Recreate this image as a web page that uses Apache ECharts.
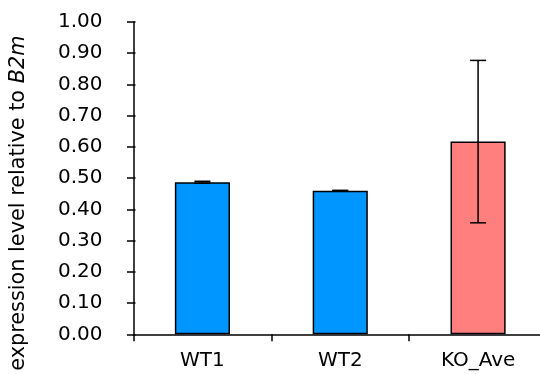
<!DOCTYPE html>
<html><head><meta charset="utf-8">
<script src="https://cdn.jsdelivr.net/npm/echarts@6/dist/echarts.min.js"></script>
<style>html,body{margin:0;padding:0;background:#fff}#c{width:540px;height:374px}</style>
</head><body><div id="c"></div>
<script>
const categories = ['WT1', 'WT2', 'KO_Ave'];
const values = [0.487, 0.460, 0.617];
const errors = [0.003, 0.001, 0.260];
const barColors = ['#0096FF', '#0096FF', '#FF7F7F'];

const FONT = 'DejaVu Sans';
const chart = echarts.init(document.getElementById('c'), null, {renderer: 'canvas'});
chart.setOption({
  animation: false,
  backgroundColor: '#fff',
  grid: {left: 133.5, right: -7, top: 22, bottom: 39.7, containLabel: false, outerBoundsMode: 'none'},
  xAxis: {
    type: 'category', data: categories,
    axisLine: {lineStyle: {color: '#000', width: 1.5}},
    axisTick: {show: true, length: 7, lineStyle: {color: '#000', width: 1.5}, alignWithLabel: false},
    axisLabel: {color: '#000', fontFamily: FONT, fontSize: 20, margin: 16}
  },
  yAxis: [{
    type: 'value', min: 0, max: 1, interval: 0.1,
    splitLine: {show: false},
    axisLine: {show: true, lineStyle: {color: '#000', width: 1.5}},
    axisTick: {show: true, length: 6.5, lineStyle: {color: '#000', width: 1.5}},
    axisLabel: {color: '#000', fontFamily: FONT, fontSize: 20, margin: 31,
      formatter: v => v.toFixed(2)},
    name: '{n|expression level relative to }{i|B2m}',
    nameLocation: 'middle', nameRotate: 90, nameGap: 104,
    nameTextStyle: {padding: [0, 50, 0, 0],
      rich: {n: {fontFamily: FONT, fontSize: 20.8, color: '#000'},
             i: {fontFamily: FONT, fontSize: 20.8, color: '#000', fontStyle: 'italic'}}}
  }, {
    type: 'value', min: 0, max: 1, interval: 0.1, position: 'left',
    splitLine: {show: false},
    axisLine: {show: false},
    axisTick: {show: true, inside: true, length: 2, lineStyle: {color: '#000', width: 1.5}},
    axisLabel: {show: false}
  }],
  series: [{
    type: 'bar', barWidth: '40%',
    data: values.map((v, i) => ({value: v, itemStyle: {color: barColors[i]}})),
    itemStyle: {borderColor: '#000', borderWidth: 1.5}
  }, {
    type: 'custom',
    data: values.map((v, i) => [i, v - errors[i], v + errors[i]]),
    renderItem: function (params, api) {
      const x = api.value(0);
      const lo = api.coord([x, api.value(1)]);
      const hi = api.coord([x, api.value(2)]);
      const hw = 8;
      const st = {stroke: '#000', lineWidth: 1.5};
      return {type: 'group', children: [
        {type: 'line', shape: {x1: lo[0], y1: lo[1], x2: hi[0], y2: hi[1]}, style: st},
        {type: 'line', shape: {x1: lo[0] - hw, y1: lo[1], x2: lo[0] + hw, y2: lo[1]}, style: st},
        {type: 'line', shape: {x1: hi[0] - hw, y1: hi[1], x2: hi[0] + hw, y2: hi[1]}, style: st}
      ]};
    },
    z: 10
  }]
});
</script></body></html>
